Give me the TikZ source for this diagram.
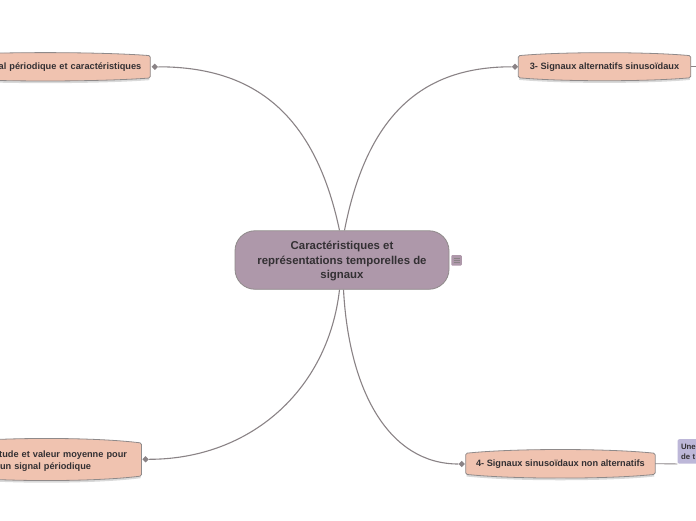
\documentclass[tikz,border=0pt]{standalone}
\usepackage{fontspec}
\setmainfont{Liberation Sans}
\usetikzlibrary{backgrounds,calc,shapes.geometric}
\definecolor{salmon}{HTML}{F0C3B0}
\definecolor{mauve}{HTML}{AE98AA}
\definecolor{lilac}{HTML}{BDB7D8}
\definecolor{ink}{HTML}{333033}
\definecolor{wire}{HTML}{8A8386}
\definecolor{edgegrey}{HTML}{8F8A8A}
\tikzset{
  x=1pt,y=-1pt,
  topic/.style={inner sep=0pt,outer sep=0pt,font=\bfseries\fontsize{9.2}{12}\selectfont,text=ink},
  central/.style={draw=edgegrey,fill=mauve,rounded corners=20pt,minimum width=214pt,minimum height=58.5pt,inner sep=0pt,
     align=center,font=\bfseries\fontsize{11.4}{14.5}\selectfont,text=ink,line width=.8pt},
  note/.style={fill=lilac,rounded corners=2pt,inner sep=0pt,minimum width=60pt,minimum height=24.5pt,text width=53pt,
     align=left,font=\bfseries\fontsize{7.8}{10}\selectfont,text=ink},
  tick/.style={fill=mauve,rounded corners=1pt,minimum width=10.5pt,minimum height=10.5pt,inner sep=0pt},
  enddot/.style={diamond,fill=wire,inner sep=0pt,minimum width=6.5pt,minimum height=6.5pt},
  wirepath/.style={draw=wire,line width=1.1pt},
}
\newcommand{\bulgebox}[2]{%
  \begin{scope}[on background layer]
  \draw[gray!30,line width=2pt]
     ($(#1.south west)+(1,1.2)$) .. controls ($(#1.south west)!.25!(#1.south east)+(0,#2+1.2)$) and ($(#1.south west)!.75!(#1.south east)+(0,#2+1.2)$) .. ($(#1.south east)+(-1,1.2)$);
  \draw[edgegrey,fill=salmon,line width=.8pt,rounded corners=1.5pt]
     (#1.north west) .. controls ($(#1.north west)!.25!(#1.north east)+(0,-#2)$) and ($(#1.north west)!.75!(#1.north east)+(0,-#2)$) .. (#1.north east)
     -- (#1.south east) .. controls ($(#1.south west)!.75!(#1.south east)+(0,#2)$) and ($(#1.south west)!.25!(#1.south east)+(0,#2)$) .. (#1.south west) -- cycle;
  \end{scope}}
\begin{document}
\begin{tikzpicture}
\useasboundingbox (0,0) rectangle (696,520);
\begin{scope}[on background layer]
\fill[white] (0,0) rectangle (696,520);
\end{scope}
\clip (0,0) rectangle (696,520);

\node[central] (c) at (342,260) {\rule{0pt}{11pt}Caractéristiques et\\représentations temporelles de\\signaux};
\node[tick] (t) at (456.5,260.3) {};
\draw[wire,line width=.6pt] (453.5,258) -- (459.5,258) (453.5,260.3) -- (459.5,260.3) (453.5,262.6) -- (459.5,262.6);

\node[topic,anchor=east,minimum height=22.3pt,text width=210pt,align=right] (a) at (150.3,66.8) {al périodique et caractéristiques\hspace*{9pt}};
\bulgebox{a}{4}
\node[topic,minimum width=172.5pt,minimum height=22pt,align=center] (b) at (604.5,66.7) {3- Signaux alternatifs sinusoïdaux};
\bulgebox{b}{4}
\node[topic,anchor=east,minimum height=33pt,text width=190pt,align=right] (d) at (141.5,459.5) {\rule{0pt}{10pt}tude et valeur moyenne pour\rule{14.5pt}{0pt}\\un signal périodique\hspace*{50.5pt}};
\bulgebox{d}{6}
\node[topic,minimum width=189.5pt,minimum height=21pt,align=center] (e) at (560.4,463.8) {4- Signaux sinusoïdaux non alternatifs};
\bulgebox{e}{5}
\node[note,anchor=north west] (f) at (677.3,439) {Une\\de t};

\node[enddot] (da) at (154.8,66.8) {};
\node[enddot] (db) at (515,66.8) {};
\node[enddot] (dd) at (145.6,459.3) {};
\node[enddot] (de) at (461.8,464) {};
\coordinate (pageedge) at (696,66.7);

\draw[wirepath] ([xshift=-2.5pt]c.north) .. controls ($(c.north)+(-28,-121)$) and ($(da)+(95,0)$) .. (da);
\draw[wirepath] ([xshift=2.5pt]c.north) .. controls ($(c.north)+(26,-121)$) and ($(db)+(-88,0)$) .. (db);
\draw[wirepath] ([xshift=-2.5pt]c.south) .. controls ($(c.south)+(-14,101)$) and ($(dd)+(104,0)$) .. (dd);
\draw[wirepath] ([xshift=1.5pt]c.south) .. controls ($(c.south)+(7,103)$) and ($(de)+(-72,0)$) .. (de);
\draw[draw=wire,line width=.8pt] (b.east) -- (pageedge);
\draw[draw=wire,line width=.8pt] (e.east) -- (f.south west);
\end{tikzpicture}
\end{document}
